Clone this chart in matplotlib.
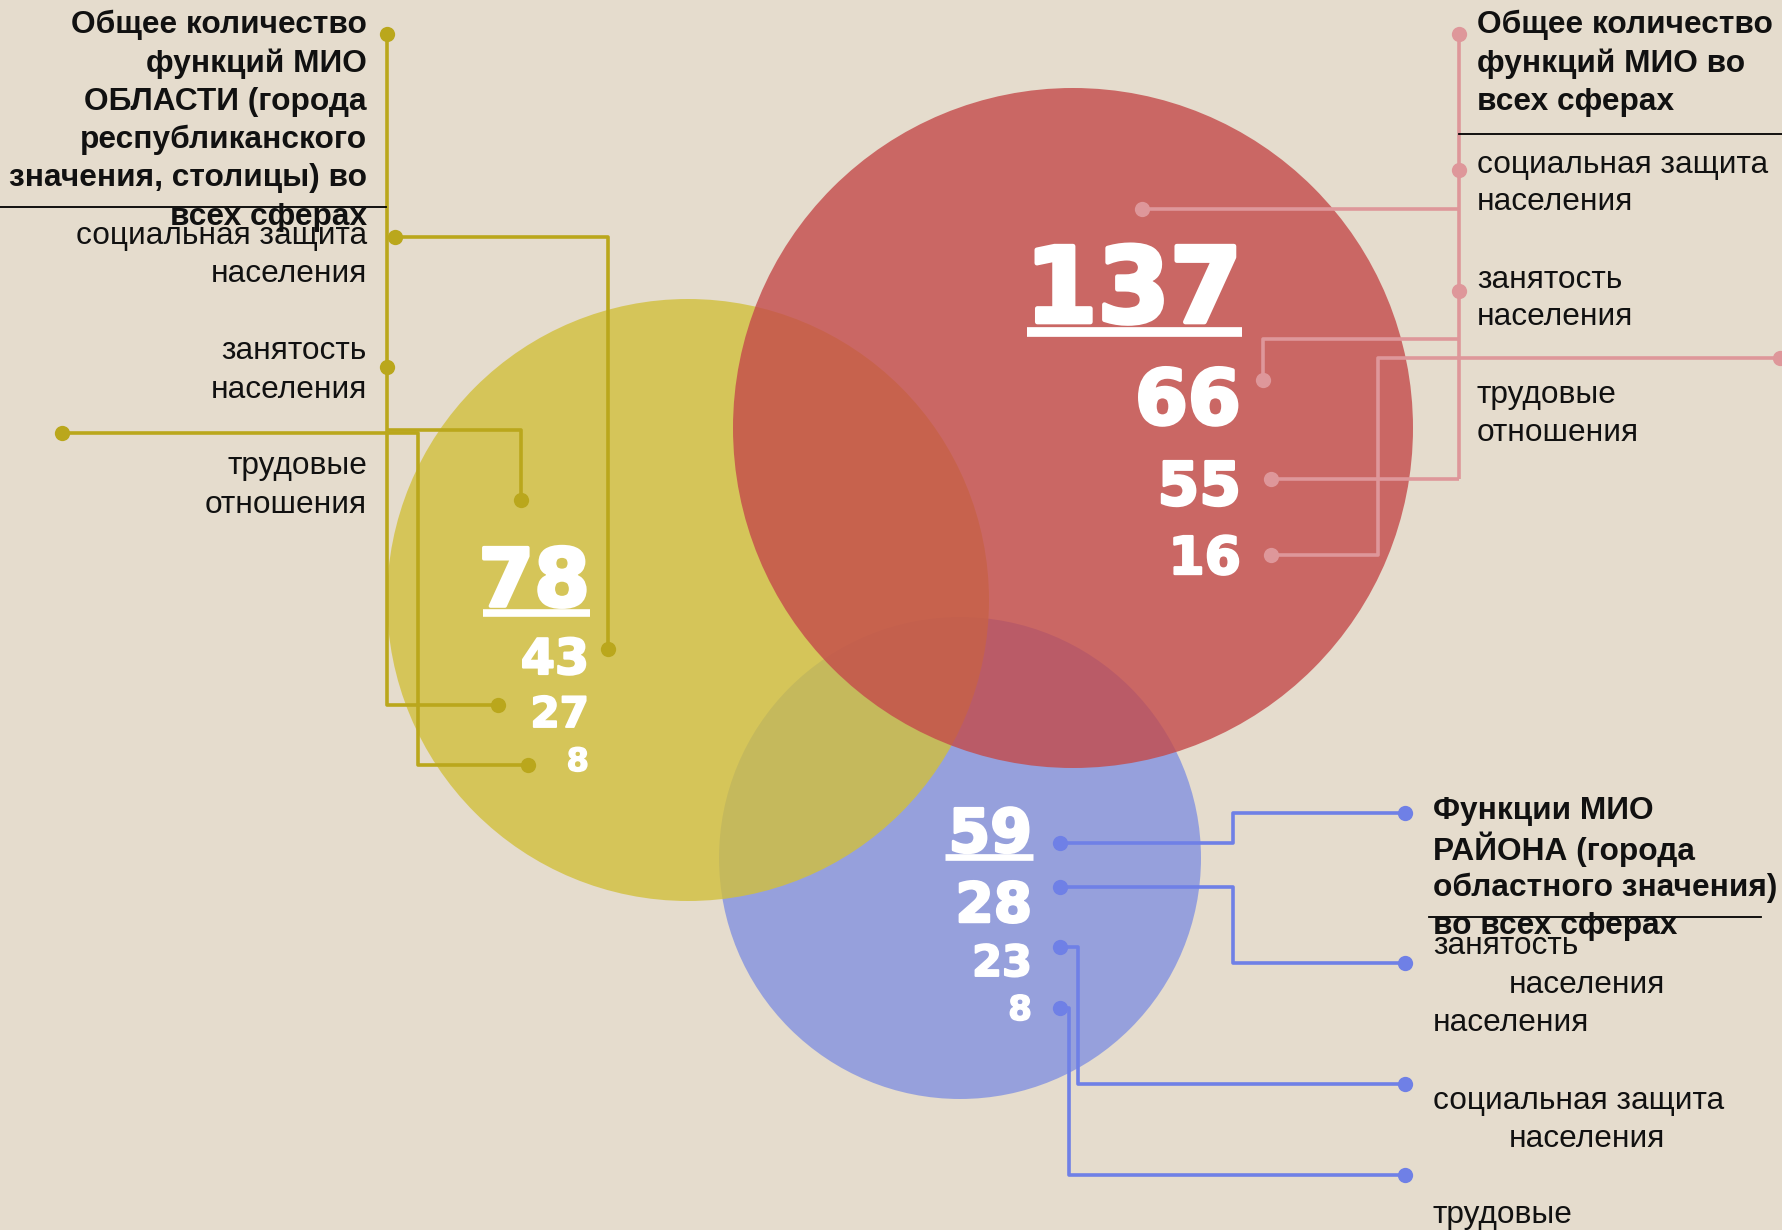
import matplotlib.pyplot as plt
import matplotlib.patheffects as pe
from matplotlib.patches import Circle

# canvas in pixels, y goes down
W, H = 1783, 1230
PX = 0.72  # px -> pt at dpi 100

# --- data ---
yellow_total = 78
yellow_parts = [43, 27, 8]
red_total = 137
red_parts = [66, 55, 16]
blue_total = 59
blue_parts = [28, 23, 8]

yellow_title = ["Общее количество", "функций МИО", "ОБЛАСТИ (города",
                "республиканского", "значения, столицы) во", "всех сферах"]
yellow_labels = ["социальная защита", "населения", "занятость", "населения",
                 "трудовые", "отношения"]
red_title = ["Общее количество", "функций МИО во", "всех сферах"]
red_labels = ["социальная защита", "населения", "занятость", "населения",
              "трудовые", "отношения"]
blue_title = ["Функции МИО", "РАЙОНА (города", "областного значения)",
              "во всех сферах"]
blue_labels = ["занятость", "населения", "населения", "социальная защита",
               "населения", "трудовые"]

# --- style ---
BG = "#e5dccd"
FONT = ["Liberation Sans", "DejaVu Sans"]
NUM_FONT = ["DejaVu Sans"]
TS = 31.6  # label text size, px
Y_FILL, R_FILL, B_FILL = "#d2c03c", "#c44a4a", "#8392e0"
Y_LINE, R_LINE, B_LINE = "#baa71c", "#de979a", "#6f80e6"

fig = plt.figure(figsize=(W / 100, H / 100), dpi=100, facecolor=BG)
ax = fig.add_axes([0, 0, 1, 1])
ax.set_xlim(0, W)
ax.set_ylim(H, 0)
ax.set_facecolor(BG)
ax.axis("off")

# circles (blue under yellow under red)
ax.add_patch(Circle((960, 858), 241, color=B_FILL, alpha=0.8, lw=0, zorder=1))
ax.add_patch(Circle((688, 600), 301, color=Y_FILL, alpha=0.8, lw=0, zorder=2))
ax.add_patch(Circle((1073, 428), 340, color=R_FILL, alpha=0.8, lw=0, zorder=3))


def txt(x, y, s, size=TS, ha="left", bold=False):
    ax.text(x, y, s, fontsize=size * PX, ha=ha, va="center", color="#111111",
            family=FONT, fontweight="bold" if bold else "normal", zorder=6)


def path(xs, ys, color, dots):
    ax.plot(xs, ys, color=color, lw=2.6, solid_capstyle="butt", zorder=4)
    for i in dots:
        ax.plot(xs[i], ys[i], "o", color=color, ms=11, mec="none", zorder=5)


def number(x, y, val, size, underline=None):
    # heavy white digits, baseline at y
    t = ax.text(x, y, str(val), fontsize=size * PX, ha="right", va="baseline",
                color="white", family=NUM_FONT, fontweight="bold", zorder=7)
    t.set_path_effects([pe.withStroke(linewidth=size * 0.045 * PX, foreground="white")])
    if underline:
        x0, x1, yu, lw = underline
        ax.plot([x0, x1], [yu, yu], color="white", lw=lw, solid_capstyle="butt", zorder=7)


# ---------- yellow (left) ----------
for i, s in enumerate(yellow_title):
    txt(367, 25 + i * 38.3, s, ha="right", bold=True)
ax.plot([0, 386], [207, 207], color="black", lw=1.3, zorder=5)
for s, y in zip(yellow_labels, [236, 274, 351, 390, 466, 505]):
    txt(367, y, s, ha="right")

path([387, 387, 498], [34, 705, 705], Y_LINE, [0, 2])
path([395, 608, 608], [237, 237, 649], Y_LINE, [0, 2])
ax.plot(387, 367, "o", color=Y_LINE, ms=11, mec="none", zorder=5)
path([62, 418, 418, 528], [433, 433, 765, 765], Y_LINE, [0, 3])
path([387, 521, 521], [430, 430, 500], Y_LINE, [2])

number(590, 606, yellow_total, 80, underline=(483, 590, 613, 5.5))
for v, y, s in zip(yellow_parts, [674, 727, 771], [49, 42, 32]):
    number(589, y, v, s)

# ---------- red (top right) ----------
for i, s in enumerate(red_title):
    txt(1477, 25 + i * 38.3, s, bold=True)
ax.plot([1459, W], [134, 134], color="black", lw=1.3, zorder=5)
for s, y in zip(red_labels, [165, 202, 280, 317, 395, 433]):
    txt(1477, y, s)

path([1459, 1459], [34, 479], R_LINE, [0])
ax.plot([1459, 1459], [170, 291], "o", color=R_LINE, ms=11, mec="none", zorder=5)
path([1459, 1142], [209, 209], R_LINE, [1])
path([1459, 1263, 1263], [339, 339, 380], R_LINE, [2])
path([1459, 1271], [479, 479], R_LINE, [1])
path([1780, 1378, 1378, 1271], [358, 358, 555, 555], R_LINE, [0, 3])

number(1242, 322, red_total, 104, underline=(1027, 1242, 332, 7))
for v, y, s in zip(red_parts, [424, 505, 574], [76, 60, 52]):
    number(1241, y, v, s)

# ---------- blue (bottom right) ----------
for i, s in enumerate(blue_title):
    txt(1433, 811 + i * 38.3, s, bold=True)
ax.plot([1429, 1761], [917, 917], color="black", lw=1.3, zorder=5)
blue_pos = [(1433, 946), (1509, 985), (1433, 1023), (1433, 1101),
            (1509, 1139), (1433, 1215)]
for s, (x, y) in zip(blue_labels, blue_pos):
    txt(x, y, s)

path([1060, 1233, 1233, 1405], [843, 843, 813, 813], B_LINE, [0, 3])
path([1060, 1233, 1233, 1405], [887, 887, 963, 963], B_LINE, [0, 3])
path([1060, 1078, 1078, 1405], [947, 947, 1084, 1084], B_LINE, [0, 3])
path([1060, 1069, 1069, 1405], [1008, 1008, 1175, 1175], B_LINE, [0, 3])

number(1032, 852, blue_total, 60, underline=(945, 1033, 857, 4.8))
for v, y, s in zip(blue_parts, [922, 976, 1020], [55, 43, 34]):
    number(1032, y, v, s)

fig.savefig("out.png", dpi=100, facecolor=BG)
